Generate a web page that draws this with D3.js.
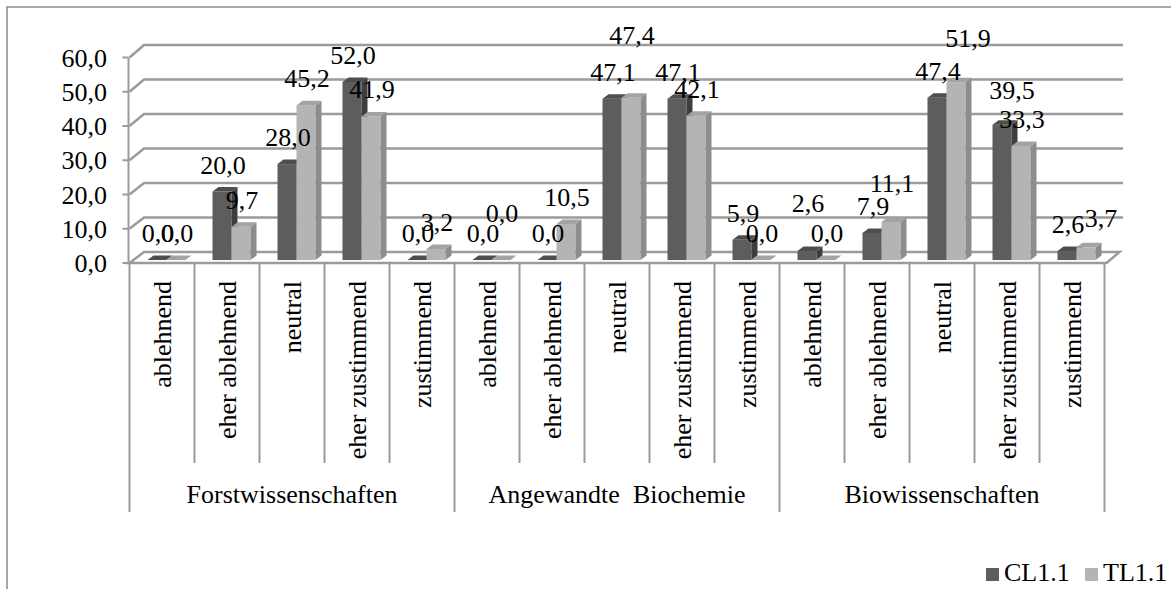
<!DOCTYPE html>
<html>
<head>
<meta charset="utf-8">
<script src="https://cdn.jsdelivr.net/npm/d3@7"></script>
</head>
<body style="margin:0">
<svg id="chart" width="1171" height="589"></svg>
<script>
// Answer categories, repeated for each faculty
const categories = ["ablehnend", "eher ablehnend", "neutral", "eher zustimmend", "zustimmend"];
const groups = ["Forstwissenschaften", "Angewandte  Biochemie", "Biowissenschaften"];
const seriesNames = ["CL1.1", "TL1.1"];
// Percentages per group x category (15 entries, group-major)
const valuesCL = [0.0, 20.0, 28.0, 52.0, 0.0,  0.0, 0.0, 47.1, 47.1, 5.9,  2.6, 7.9, 47.4, 39.5, 2.6];
const valuesTL = [0.0, 9.7, 45.2, 41.9, 3.2,  0.0, 10.5, 47.4, 42.1, 0.0,  0.0, 11.1, 51.9, 33.3, 3.7];
const yTicks = [0, 10, 20, 30, 40, 50, 60];

// Hand-placed data labels that were moved off their default spot: [series, index, dx, dy]
const labelNudges = [[1, 5, 0, -20], [1, 7, 0, -36], [0, 10, 0, -21], [1, 11, 0, -12],
                     [1, 12, 11, -17], [0, 13, 9, -8], [1, 14, 14, -2]];

const svg = d3.select("#chart");
const de = d3.formatLocale({ decimal: ",", thousands: ".", grouping: [3], currency: ["", " €"] });
const fmt = de.format(".1f");
const serif = sel => sel.style("font-family", '"Liberation Serif"').attr("font-size", 26).attr("fill", "#000");

// Chart frame
svg.append("rect").attr("x", 7).attr("y", 7).attr("width", 1200).attr("height", 620)
  .attr("fill", "none").attr("stroke", "#8c8c8c").attr("stroke-width", 1.5);

// Geometry of the pseudo-3D box
const x0 = 129.5, catW = 65, nCat = categories.length * groups.length;
const backDx = 14.5, gridRight = 1123;
const yFront = d3.scaleLinear().domain([0, 60]).range([263, 57.5]);
const yBar = d3.scaleLinear().domain([0, 60]).range([260, 54.5]);
const yBack = d3.scaleLinear().domain([0, 60]).range([252, 45]);

const idx = d3.range(nCat);
const x = d3.scaleBand().domain(idx).range([x0, x0 + nCat * catW]).paddingInner(0).paddingOuter(0);
const xs = d3.scaleBand().domain(seriesNames).range([18, 56]);
const depth = { dx: 6, dy: -4.5 };

const gridColor = "#9b9b9b";
const grid = svg.append("g").attr("fill", "none").attr("stroke", gridColor).attr("stroke-width", 2.5);

// Back wall gridlines with the diagonal on the side wall
yTicks.forEach(v => {
  if (v === 0) return;
  grid.append("path").attr("d", d3.line()([
    [x0, yFront(v)], [x0 + backDx, yBack(v)], [gridRight, yBack(v)]
  ]));
});

// Floor
const xRightFront = x0 + nCat * catW + 2;
svg.append("path")
  .attr("d", d3.line()([
    [x0, yFront(0)], [x0 + backDx, yBack(0)], [xRightFront + 13, yBack(0)], [xRightFront, yFront(0)], [x0, yFront(0)]
  ]) + "Z")
  .attr("fill", "#fff").attr("stroke", gridColor).attr("stroke-width", 2.5);

// Value axis: front line, ticks and labels
const axis = svg.append("g");
axis.append("line").attr("x1", x0 - 1).attr("x2", x0 - 1)
  .attr("y1", yFront(0)).attr("y2", yFront(60))
  .attr("stroke", gridColor).attr("stroke-width", 2);
axis.selectAll("line.tick").data(yTicks).join("line").attr("class", "tick")
  .attr("x1", x0 - 7).attr("x2", x0 - 1)
  .attr("y1", d => yFront(d)).attr("y2", d => yFront(d))
  .attr("stroke", gridColor).attr("stroke-width", 2);
axis.selectAll("text").data(yTicks).join("text")
  .attr("x", 107).attr("y", d => yFront(d) + 9)
  .attr("text-anchor", "end")
  .call(serif)
  .text(d => fmt(d));

// Bars as front / side / top faces
const seriesData = [valuesCL, valuesTL];
const palette = [
  { front: "#5d5d5d", side: "#3e3e3e", top: "#4e4e4e" },
  { front: "#b4b4b4", side: "#8d8d8d", top: "#a3a3a3" }
];
const bars = svg.append("g");
idx.forEach(i => {
  seriesNames.forEach((s, k) => {
    const v = seriesData[k][i];
    const bx = x(i) + xs(s), bw = xs.bandwidth();
    const yb = yBar(0), yt = yBar(v);
    const c = palette[k];
    const g = bars.append("g");
    if (v > 0) {
      g.append("rect").attr("x", bx).attr("y", yt).attr("width", bw).attr("height", yb - yt)
        .attr("fill", c.front);
      g.append("path").attr("d", d3.line()([
        [bx + bw, yt], [bx + bw + depth.dx, yt + depth.dy], [bx + bw + depth.dx, yb + depth.dy], [bx + bw, yb]
      ]) + "Z").attr("fill", c.side);
    }
    g.append("path").attr("d", d3.line()([
      [bx, yt], [bx + depth.dx, yt + depth.dy], [bx + bw + depth.dx, yt + depth.dy], [bx + bw, yt]
    ]) + "Z").attr("fill", c.top);
  });
});

// Data labels
const labels = svg.append("g");
idx.forEach(i => {
  seriesNames.forEach((s, k) => {
    const v = seriesData[k][i];
    const n = labelNudges.find(d => d[0] === k && d[1] === i);
    const ndx = n ? n[2] : 0, ndy = n ? n[3] : 0;
    labels.append("text")
      .attr("x", x(i) + xs(s) + xs.bandwidth() / 2 + 1 + ndx)
      .attr("y", yBar(v) - 18 + ndy)
      .attr("text-anchor", "middle")
      .call(serif)
      .text(fmt(v));
  });
});

// Category axis: separators, rotated category names, group names
const catAxis = svg.append("g");
const catBottom = 463, groupBottom = 512;
d3.range(nCat + 1).forEach(i => {
  const isGroup = i % categories.length === 0;
  catAxis.append("line")
    .attr("x1", x0 + i * catW).attr("x2", x0 + i * catW)
    .attr("y1", yFront(0)).attr("y2", isGroup ? groupBottom : catBottom)
    .attr("stroke", gridColor).attr("stroke-width", 2);
});
catAxis.selectAll("text.cat").data(idx).join("text").attr("class", "cat")
  .attr("text-anchor", "end")
  .attr("transform", i => `translate(${x(i) + catW / 2 + 9},281) rotate(-90)`)
  .call(serif)
  .text(i => categories[i % categories.length]);
catAxis.selectAll("text.grp").data(groups).join("text").attr("class", "grp")
  .attr("text-anchor", "middle")
  .attr("x", (d, j) => x0 + (j * categories.length + categories.length / 2) * catW)
  .attr("y", 503)
  .call(serif)
  .style("white-space", "pre")
  .text(d => d);

// Legend
const legend = svg.append("g");
const legendX = [986, 1085];
seriesNames.forEach((s, k) => {
  legend.append("rect").attr("x", legendX[k]).attr("y", 568).attr("width", 13).attr("height", 13)
    .attr("fill", palette[k].front);
  legend.append("text").attr("x", legendX[k] + 18).attr("y", 581).call(serif).text(s);
});
</script>
</body>
</html>
